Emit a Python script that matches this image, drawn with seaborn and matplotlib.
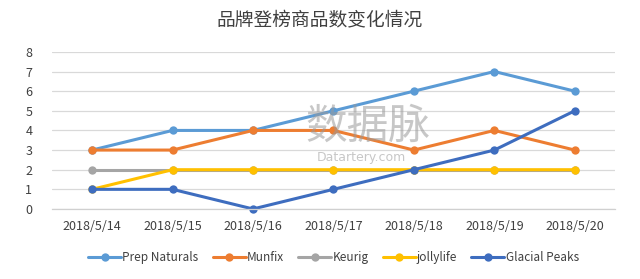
import matplotlib
matplotlib.use("Agg")
import matplotlib.pyplot as plt
import numpy as np
import pandas as pd
import seaborn as sns

dates = ["2018/5/14", "2018/5/15", "2018/5/16", "2018/5/17",
         "2018/5/18", "2018/5/19", "2018/5/20"]
prep_naturals = [3, 4, 4, 5, 6, 7, 6]
munfix = [3, 3, 4, 4, 3, 4, 3]
keurig = [2, 2, 2, 2, 2, 2, 2]
jollylife = [1, 2, 2, 2, 2, 2, 2]
glacial_peaks = [1, 1, 0, 1, 2, 3, 5]

brands = ["Prep Naturals", "Munfix", "Keurig", "jollylife", "Glacial Peaks"]
series = [prep_naturals, munfix, keurig, jollylife, glacial_peaks]
colors = ["#5B9BD5", "#ED7D31", "#A5A5A5", "#FFC000", "#3E6DBF"]

df = pd.DataFrame({
    "date": dates * len(brands),
    "brand": np.repeat(brands, len(dates)),
    "count": np.concatenate(series),
})

sns.set_theme(style="white")
plt.rcParams["font.family"] = ["Noto Sans CJK SC", "DejaVu Sans"]

fig = plt.figure(figsize=(6.4, 2.79), dpi=100)
ax = fig.add_axes([0.081, 0.251, 0.88, 0.563])

sns.lineplot(data=df, x="date", y="count", hue="brand", hue_order=brands,
             palette=colors, marker="o", markersize=6, markeredgewidth=0,
             linewidth=2.2, ax=ax, legend=True, clip_on=False)

ax.set_ylim(0, 8)
ax.set_xlim(-0.5, len(dates) - 0.5)
ax.set_yticks(range(0, 9))
ax.yaxis.grid(True, color="#D9D9D9", linewidth=0.9)
ax.set_axisbelow(True)
for s in ["top", "right", "left"]:
    ax.spines[s].set_visible(False)
ax.spines["bottom"].set_color("#D0D0D0")
ax.spines["bottom"].set_linewidth(0.9)
ax.set_xlabel("")
ax.set_ylabel("")
ax.tick_params(axis="y", length=0, labelsize=9, labelcolor="#404040", pad=14)
ax.tick_params(axis="x", which="major", length=0, labelsize=9,
               labelcolor="#404040", pad=8)
ax.set_xticks(np.arange(-0.5, len(dates)), minor=True)
ax.tick_params(axis="x", which="minor", length=4, color="#D0D0D0", width=0.9)

ax.legend(loc="center", bbox_to_anchor=(0.5, -0.31), ncol=5,
          frameon=False, fontsize=8.5, handlelength=2.8, columnspacing=1.2,
          handletextpad=0.1, labelcolor="#404040")

fig.suptitle("品牌登榜商品数变化情况", y=0.965, fontsize=13.5, color="#404040")

# watermark
fig.text(0.575, 0.545, "数据脉", fontsize=30, color="#9A9A9A", alpha=0.55,
         ha="center", va="center")
fig.text(0.565, 0.435, "Datartery.com", fontsize=9, color="#9A9A9A",
         alpha=0.55, ha="center", va="center", family="DejaVu Sans")

fig.savefig("out.png", dpi=100)
